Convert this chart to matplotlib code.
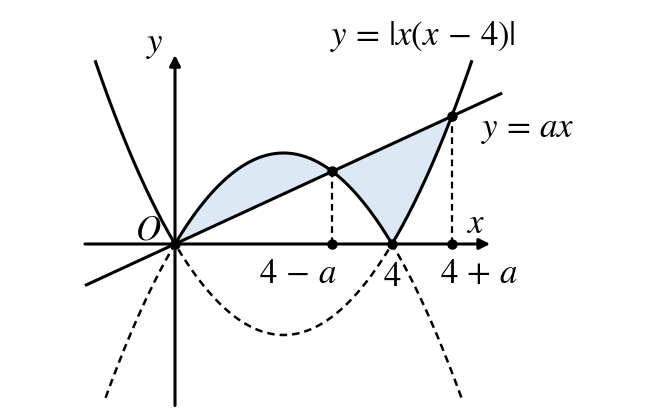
import numpy as np
import matplotlib as mpl
import matplotlib.pyplot as plt

mpl.rcParams['mathtext.fontset'] = 'stix'
mpl.rcParams['font.family'] = 'STIXGeneral'

# values
a = 1.1
x_solid = (-1.475, 5.475)      # range of y = |x(x-4)|
x_dash = (-1.28, 5.28)         # range of the reflected part y = -|x(x-4)|
x_line = (-1.66, 6.03)         # range of y = ax
x_axis = (-1.66, 5.81)
y_axis = (-7.1, 8.31)
xlim = (-3.226, 8.756)
ylim = (-7.736, 10.725)

pts_x = [0, 4 - a, 4 - a, 4, 4 + a, 4 + a]
pts_y = [0, a * (4 - a), 0, 0, 0, a * (4 + a)]

tick_labels = [r'$4\,-\,a$', r'$4$', r'$4\,+\,a$']
tick_pos = [(2.27, -1.35), (4.0, -1.5), (5.6, -1.35)]

fill_col = '#dde8f5'


def f(x):
    return np.abs(x * (x - 4))


fig = plt.figure(figsize=(6.5, 4.2), dpi=100)
ax = fig.add_axes([0, 0, 1, 1])
ax.set_xlim(*xlim)
ax.set_ylim(*ylim)
ax.axis('off')

# shaded regions
xs = np.linspace(0, 4 - a, 200)
ax.fill_between(xs, a * xs, f(xs), color=fill_col, lw=0)
xs = np.linspace(4 - a, 4 + a, 200)
ax.fill_between(xs, f(xs), a * xs, color=fill_col, lw=0)

# axes with arrows
ax.annotate('', xy=(x_axis[1], 0), xytext=(x_axis[0], 0),
            arrowprops=dict(arrowstyle='-|>', lw=2.2, color='k',
                            mutation_scale=16, shrinkA=0, shrinkB=0))
ax.annotate('', xy=(0, y_axis[1]), xytext=(0, y_axis[0]),
            arrowprops=dict(arrowstyle='-|>', lw=2.2, color='k',
                            mutation_scale=16, shrinkA=0, shrinkB=0))

# curves
xs = np.linspace(*x_solid, 600)
ax.plot(xs, f(xs), color='k', lw=2.2, solid_capstyle='butt')
xs = np.linspace(*x_dash, 600)
ax.plot(xs, -f(xs), color='k', lw=1.8, ls=(0, (3, 2)))
xs = np.array(x_line)
ax.plot(xs, a * xs, color='k', lw=2.2, solid_capstyle='butt')

# dashed drop lines
for xv in (4 - a, 4 + a):
    ax.plot([xv, xv], [0, a * xv], color='k', lw=1.6, ls=(0, (3, 2)))

ax.plot(pts_x, pts_y, 'o', color='k', ms=6.5, zorder=5)

# labels
fs = 25
for lab, (tx, ty) in zip(tick_labels, tick_pos):
    ax.text(tx, ty, lab, fontsize=fs, ha='center', va='center')
ax.text(-0.5, 0.55, r'$O$', fontsize=fs, ha='center', va='center')
ax.text(5.56, 0.85, r'$x$', fontsize=fs, ha='center', va='center')
ax.text(-0.37, 8.75, r'$y$', fontsize=fs, ha='center', va='center')
ax.text(4.57, 9.1, r'$y\,=\,|x(x\,-\,4)|$', fontsize=fs, ha='center', va='center')
ax.text(6.5, 5.0, r'$y\,=\,ax$', fontsize=fs, ha='center', va='center')

fig.savefig('out.png', dpi=100)
